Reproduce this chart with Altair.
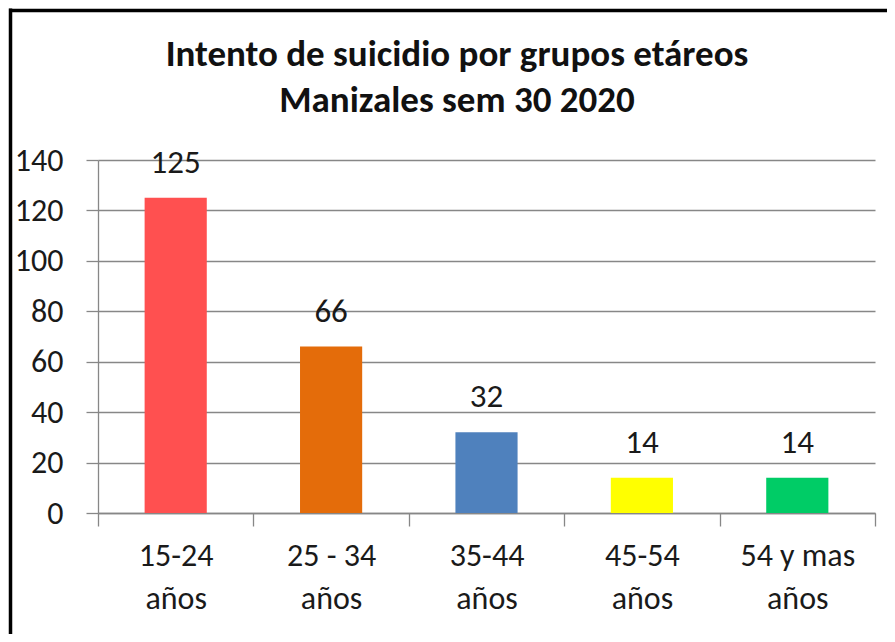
import altair as alt
import pandas as pd

categories = ["15-24 años", "25 - 34 años", "35-44 años", "45-54 años", "54 y mas años"]
values = [125, 66, 32, 14, 14]
colors = ["#FF5050", "#E46C0A", "#4F81BD", "#FFFF00", "#00CC66"]
y_ticks = [0, 20, 40, 60, 80, 100, 120, 140]
title_lines = ["Intento de suicidio por grupos etáreos", "Manizales sem 30 2020"]

FONT = "Carlito, Lato, sans-serif"
GREY = "#878787"
TXT = "#1a1a1a"
FS = 32

df = pd.DataFrame({"grupo": categories, "casos": values, "color": colors})

x_enc = alt.X(
    "grupo:N",
    sort=categories,
    title=None,
    scale=alt.Scale(paddingInner=0, paddingOuter=0),
    axis=alt.Axis(
        labelAngle=0,
        tickBand="extent",
        labelExpr="indexof(datum.label, 'años') < 0 ? '' : [replace(datum.label, ' años', ''), 'años']",
        labelFont=FONT,
        labelFontSize=FS,
        labelColor=TXT,
        labelLineHeight=43,
        labelPadding=14,
        tickSize=13,
        tickColor=GREY,
        tickWidth=1.3,
        domainColor=GREY,
        domainWidth=1.3,
        grid=False,
    ),
)

y_enc = alt.Y(
    "casos:Q",
    title=None,
    scale=alt.Scale(domain=[0, 140], nice=False),
    axis=alt.Axis(
        values=y_ticks,
        labelFont=FONT,
        labelFontSize=FS,
        labelColor=TXT,
        labelPadding=23,
        tickSize=12,
        tickColor=GREY,
        tickWidth=1.3,
        domainColor=GREY,
        domainWidth=1.3,
        grid=True,
        gridColor=GREY,
        gridWidth=1.3,
    ),
)

base = alt.Chart(df)

bars = base.mark_bar(width=alt.RelativeBandSize(0.4)).encode(
    x=x_enc,
    y=y_enc,
    color=alt.Color("color:N", scale=None),
)

labels = base.mark_text(
    dy=-35, baseline="middle", font=FONT, fontSize=33, color=TXT
).encode(
    x=alt.X("grupo:N", sort=categories),
    y=alt.Y("casos:Q"),
    text=alt.Text("casos:Q"),
)

one = pd.DataFrame({"k": [0]})

title = alt.Chart(one).mark_text(
    text=title_lines,
    font=FONT,
    fontSize=37,
    fontWeight="bold",
    color="#111111",
    lineHeight=46,
    align="center",
    baseline="middle",
).encode(x=alt.value(359), y=alt.value(-105))

border_left = alt.Chart(one).mark_rule(color="black", strokeWidth=3.5).encode(
    x=alt.value(-87.5), y=alt.value(-151.5), y2=alt.value(500)
)
border_top = alt.Chart(one).mark_rule(color="black", strokeWidth=3.5).encode(
    x=alt.value(-89), x2=alt.value(900), y=alt.value(-149.5)
)

chart = (
    alt.layer(bars, labels, title, border_left, border_top)
    .properties(
        width=777,
        height=353,
        autosize="none",
        padding={"left": 90, "top": 152, "right": 12, "bottom": 121},
        background="white",
    )
    .configure_view(stroke=None)
)

chart.save("out.html", embed_options={"renderer": "svg", "actions": False})
